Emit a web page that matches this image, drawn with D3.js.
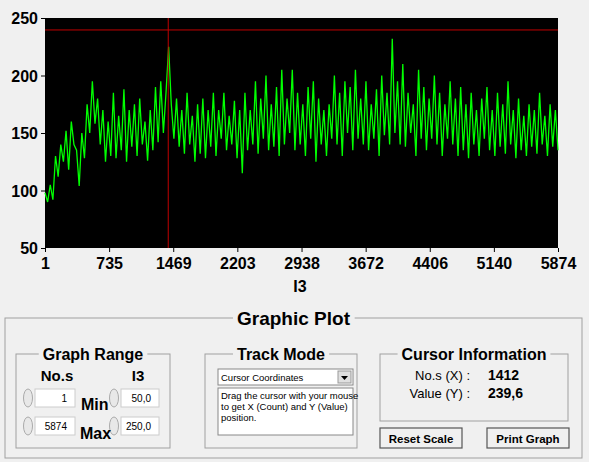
<!DOCTYPE html>
<html><head><meta charset="utf-8">
<script src="https://cdn.jsdelivr.net/npm/d3@7"></script>
<style>body{margin:0;background:#f0f0f0;font-family:Arial,"Liberation Sans",sans-serif}</style>
</head><body><div id="chart"></div>
<script>
// signal values (roughly one point per 30 counts)
var signal = [98,90,105,92,130,112,140,125,152,118,160,140,135,104,150,128,175,150,195,158,180,140,170,125,160,130,185,128,165,135,188,125,170,138,175,130,180,140,160,126,170,135,190,142,195,150,185,225,175,145,180,138,170,132,185,140,165,125,175,132,180,128,170,138,185,130,170,145,185,135,165,140,178,128,170,115,185,135,170,140,195,132,180,145,200,135,175,138,190,130,205,140,180,150,205,135,185,140,175,130,190,145,195,125,180,140,170,130,175,145,200,140,185,130,195,150,190,135,205,145,180,140,195,135,175,145,188,130,200,148,185,140,232,150,195,140,210,138,185,150,175,130,205,145,190,135,180,145,200,140,185,130,175,145,195,140,180,130,190,135,175,128,185,140,170,130,180,145,190,135,170,130,185,138,175,132,195,140,170,128,180,135,165,130,175,138,170,132,185,140,165,130,175,138,170,135];
var xTicks = [1,735,1469,2203,2938,3672,4406,5140,5874];
var yTicks = [50,100,150,200,250];
var cursorX = 1412, cursorY = 239.6;
var nMax = 5874;

var svg = d3.select('#chart').append('svg').attr('width',589).attr('height',462);
var margin = {left:45, top:18, right:558, bottom:248};

var x = d3.scaleLinear().domain([1,nMax]).range([margin.left, margin.right]);
var y = d3.scaleLinear().domain([50,250]).range([margin.bottom, margin.top]);

svg.append('rect').attr('x',margin.left).attr('y',margin.top)
  .attr('width',margin.right-margin.left).attr('height',margin.bottom-margin.top).attr('fill','#000');

var step = (nMax-1)/(signal.length-1);
var line = d3.line().x((d,i)=>x(1+i*step)).y(d=>y(d));
svg.append('path').datum(signal).attr('d',line).attr('fill','none').attr('stroke','#00ff00').attr('stroke-width',1.3);

// cursor
svg.append('line').attr('x1',x(cursorX)).attr('x2',x(cursorX)).attr('y1',margin.top).attr('y2',margin.bottom).attr('stroke','#c00000');
svg.append('line').attr('x1',margin.left).attr('x2',margin.right).attr('y1',y(cursorY)).attr('y2',y(cursorY)).attr('stroke','#c00000');

var xAxis = svg.append('g').attr('transform',`translate(0,${margin.bottom})`)
  .call(d3.axisBottom(x).tickValues(xTicks).tickFormat(d3.format('d')).tickSize(4));
var yAxis = svg.append('g').attr('transform',`translate(${margin.left},0)`)
  .call(d3.axisLeft(y).tickValues(yTicks).tickSize(4));
[xAxis,yAxis].forEach(a=>{
  a.select('.domain').remove();
  a.selectAll('text').attr('font-size',16).attr('font-weight','bold').attr('font-family','Arial').attr('fill','#000');
});
xAxis.selectAll('text').attr('dy','0.9em');
yAxis.selectAll('text').attr('dy','0.35em');
svg.append('text').attr('x',300).attr('y',292).attr('text-anchor','middle')
  .attr('font-size',16).attr('font-weight','bold').text('I3');

// control panel
function box(x0,y0,w,h,title,size){
  svg.append('rect').attr('x',x0).attr('y',y0).attr('width',w).attr('height',h)
    .attr('fill','none').attr('stroke','#a0a0a0');
  if(title){
    var tt = svg.append('text').attr('x',x0+w/2).attr('y',y0+size*0.35).attr('text-anchor','middle')
      .attr('font-size',size).attr('font-weight','bold').text(title);
    var bb = tt.node().getBBox();
    svg.insert('rect',()=>tt.node()).attr('x',bb.x-4).attr('y',y0-2).attr('width',bb.width+8).attr('height',4).attr('fill','#f0f0f0');
  }
}
box(5,318,577,140,'Graphic Plot',19);
box(16,354,154,94,'Graph Range',16);
box(205,354,152,94,'Track Mode',16);
box(380,354,188,67,'Cursor Information',16);

function t(x0,y0,s,size,bold,anchor){
  svg.append('text').attr('x',x0).attr('y',y0).attr('font-size',size)
    .attr('font-weight',bold?'bold':'normal').attr('text-anchor',anchor||'start').text(s);
}
t(57,381,'No.s',15,true,'middle'); t(138,381,'I3',15,true,'middle');
function field(x0,y0,w,val){
  svg.append('ellipse').attr('cx',x0-7).attr('cy',y0+9).attr('rx',4.5).attr('ry',9).attr('fill','#e8e8e8').attr('stroke','#aaa');
  svg.append('rect').attr('x',x0).attr('y',y0).attr('width',w).attr('height',18).attr('fill','#fff').attr('stroke','#ccc');
  t(x0+w-8,y0+13,val,10,false,'end');
}
field(35,389,40,'1'); field(35,417,40,'5874');
field(121,389,38,'50,0'); field(121,417,38,'250,0');
t(81,410,'Min',16,true); t(80,439,'Max',16,true);

svg.append('rect').attr('x',218).attr('y',369).attr('width',135).attr('height',16).attr('fill','#fff').attr('stroke','#888');
t(221,381,'Cursor Coordinates',9.5,false);
svg.append('rect').attr('x',338).attr('y',371).attr('width',13).attr('height',12).attr('fill','#e0e0e0').attr('stroke','#999');
svg.append('path').attr('d','M341,376 L348,376 L344.5,380 Z').attr('fill','#000');
svg.append('rect').attr('x',218).attr('y',388).attr('width',135).attr('height',47).attr('fill','#fff').attr('stroke','#888');
t(221,399,'Drag the cursor with your mouse',9.5,false);
t(221,410,'to get X (Count) and Y (Value)',9.5,false);
t(221,421,'position.',9.5,false);

t(470,380,'No.s (X) :',13,false,'end'); t(488,380,cursorX,14,true);
t(470,398,'Value (Y) :',13,false,'end'); t(488,398,String(cursorY).replace('.',','),14,true);

function button(x0,label){
  svg.append('rect').attr('x',x0).attr('y',428).attr('width',82).attr('height',20).attr('fill','#f0f0f0').attr('stroke','#555').attr('stroke-width',1.2);
  t(x0+41,443,label,11.5,true,'middle');
}
button(380,'Reset Scale'); button(487,'Print Graph');
</script></body></html>
